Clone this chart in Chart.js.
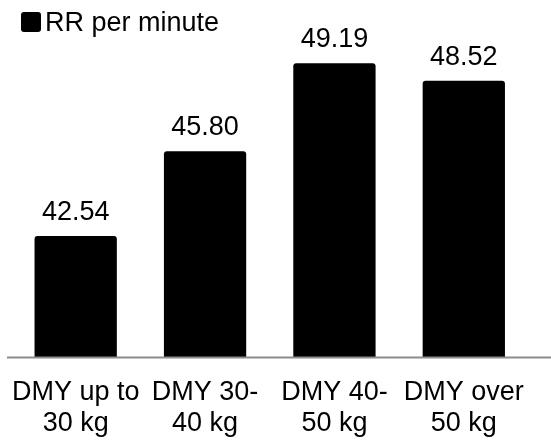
<!DOCTYPE html>
<html>
<head>
<meta charset="utf-8">
<script src="https://cdn.jsdelivr.net/npm/chart.js@4"></script>
<style>
  html, body { margin: 0; padding: 0; background: #fff; }
  #wrap { position: relative; width: 551px; height: 441px; }
  #legend {
    position: absolute; left: 21px; top: 12px;
    font: 27px "Liberation Sans", Arial, sans-serif;
    color: #000; line-height: 20px;
    display: flex; align-items: center;
  }
  #legend span.box {
    display: inline-block; width: 20px; height: 20px;
    background: #000; border-radius: 3px; margin-right: 4px;
  }
</style>
</head>
<body>
<div id="wrap">
  <canvas id="rrChart" width="551" height="441"></canvas>
  <div id="legend"><span class="box"></span>RR per minute</div>
</div>
<script>
const categories = [
  ["DMY up to", "30 kg"],
  ["DMY 30-", "40 kg"],
  ["DMY 40-", "50 kg"],
  ["DMY over", "50 kg"]
];
const rrValues = [42.54, 45.80, 49.19, 48.52];
const seriesName = "RR per minute";
const yMin = 37.86;
const yMax = 50.09;

const FONT = '"Liberation Sans", Arial, sans-serif';

// value labels above each bar
const valueLabels = {
  id: "valueLabels",
  afterDatasetsDraw(chart) {
    const ctx = chart.ctx;
    const meta = chart.getDatasetMeta(0);
    ctx.save();
    ctx.font = "27px " + FONT;
    ctx.fillStyle = "#000";
    ctx.textAlign = "center";
    ctx.textBaseline = "alphabetic";
    meta.data.forEach((bar, i) => {
      const v = chart.data.datasets[0].data[i];
      ctx.fillText(v.toFixed(2), bar.x, bar.y - 16);
    });
    ctx.restore();
  }
};

// gray baseline, a bit wider than the plot area
const baseLine = {
  id: "baseLine",
  afterDatasetsDraw(chart) {
    const ctx = chart.ctx;
    const y = chart.scales.y.getPixelForValue(yMin);
    ctx.save();
    ctx.strokeStyle = "#8c8c8c";
    ctx.lineWidth = 2;
    ctx.beginPath();
    ctx.moveTo(chart.chartArea.left - 4, y);
    ctx.lineTo(chart.width, y);
    ctx.stroke();
    ctx.restore();
  }
};

new Chart(document.getElementById("rrChart").getContext("2d"), {
  type: "bar",
  data: {
    labels: categories,
    datasets: [
      {
        label: seriesName,
        data: rrValues,
        backgroundColor: "#000",
        borderRadius: 3,
        borderSkipped: false,
        categoryPercentage: 1,
        barPercentage: 0.636
      }
    ]
  },
  options: {
    responsive: false,
    animation: false,
    layout: { padding: { left: 11, right: 22.5, top: 40, bottom: 0 } },
    plugins: {
      legend: { display: false },
      tooltip: { enabled: false }
    },
    scales: {
      x: {
        grid: { display: false, drawTicks: false },
        border: { display: false },
        ticks: {
          color: "#000",
          maxRotation: 0,
          autoSkip: false,
          padding: 19,
          font: { family: FONT, size: 27, lineHeight: 1.16 }
        },
        afterFit(scale) {
          scale.height = 83.5;
          scale.paddingLeft = 0;
          scale.paddingRight = 0;
        }
      },
      y: {
        display: false,
        min: yMin,
        max: yMax
      }
    }
  },
  plugins: [valueLabels, baseLine]
});
</script>
</body>
</html>
